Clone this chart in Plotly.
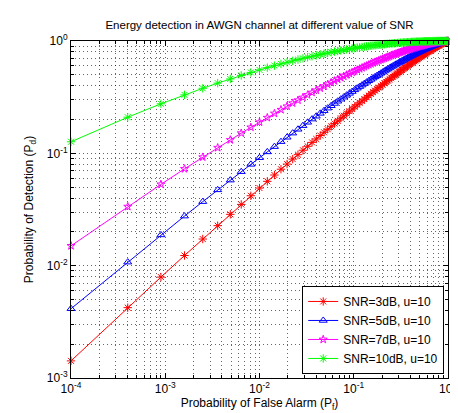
import plotly.graph_objects as go

# Probability of false alarm (x) values
pf = [0.0001, 0.0004, 0.0009, 0.0016, 0.0025, 0.0036, 0.0049, 0.0064, 0.0081, 0.01,
      0.0121, 0.0144, 0.0169, 0.0196, 0.0225, 0.0256, 0.0289, 0.0324, 0.0361, 0.04,
      0.0441, 0.0484, 0.0529, 0.0576, 0.0625, 0.0676, 0.0729, 0.0784, 0.0841, 0.09,
      0.0961, 0.1024, 0.1089, 0.1156, 0.1225, 0.1296, 0.1369, 0.1444, 0.1521, 0.16,
      0.1681, 0.1764, 0.1849, 0.1936, 0.2025, 0.2116, 0.2209, 0.2304, 0.2401, 0.25,
      0.2601, 0.2704, 0.2809, 0.2916, 0.3025, 0.3136, 0.3249, 0.3364, 0.3481, 0.36,
      0.3721, 0.3844, 0.3969, 0.4096, 0.4225, 0.4356, 0.4489, 0.4624, 0.4761, 0.49,
      0.5041, 0.5184, 0.5329, 0.5476, 0.5625, 0.5776, 0.5929, 0.6084, 0.6241, 0.64,
      0.6561, 0.6724, 0.6889, 0.7056, 0.7225, 0.7396, 0.7569, 0.7744, 0.7921, 0.81,
      0.8281, 0.8464, 0.8649, 0.8836, 0.9025, 0.9216, 0.9409, 0.9604, 0.9801, 1.0]

pd_snr3 = [0.00142, 0.00423, 0.00791, 0.01232, 0.01726, 0.0227, 0.02864, 0.03509, 0.04193, 0.04907,
           0.05632, 0.06411, 0.07222, 0.08023, 0.08885, 0.0973, 0.1066, 0.1155, 0.1252, 0.1342,
           0.1441, 0.154, 0.1639, 0.1741, 0.1841, 0.1947, 0.205, 0.2157, 0.2266, 0.2372,
           0.2483, 0.2593, 0.2705, 0.2817, 0.2927, 0.3042, 0.3153, 0.327, 0.3387, 0.3503,
           0.3618, 0.3732, 0.3851, 0.3969, 0.4087, 0.4205, 0.4326, 0.4442, 0.4563, 0.4684,
           0.4802, 0.4919, 0.5041, 0.5159, 0.5281, 0.5402, 0.552, 0.564, 0.576, 0.5879,
           0.5998, 0.6115, 0.6235, 0.6351, 0.6468, 0.6588, 0.6706, 0.682, 0.6938, 0.7054,
           0.7168, 0.7283, 0.7399, 0.7512, 0.7623, 0.7737, 0.7847, 0.7957, 0.8066, 0.8174,
           0.8283, 0.839, 0.8493, 0.86, 0.8703, 0.8805, 0.8905, 0.9004, 0.91, 0.9195,
           0.9288, 0.938, 0.947, 0.9557, 0.9641, 0.9723, 0.9801, 0.9874, 0.9942, 1.0]

pd_snr5 = [0.00414, 0.01075, 0.01878, 0.02762, 0.03714, 0.04731, 0.05775, 0.06861, 0.07979, 0.0914,
           0.103, 0.1147, 0.127, 0.139, 0.1513, 0.1637, 0.1763, 0.1889, 0.2017, 0.2139,
           0.2269, 0.2397, 0.2525, 0.2653, 0.2779, 0.2908, 0.3033, 0.3163, 0.3292, 0.3417,
           0.3546, 0.3674, 0.38, 0.3927, 0.405, 0.4177, 0.4299, 0.4425, 0.4551, 0.4674,
           0.4794, 0.4914, 0.5037, 0.5158, 0.5277, 0.5397, 0.5516, 0.5631, 0.575, 0.5867,
           0.598, 0.6092, 0.6207, 0.6318, 0.643, 0.6542, 0.6649, 0.6758, 0.6865, 0.6971,
           0.7075, 0.7178, 0.7282, 0.738, 0.7481, 0.7581, 0.768, 0.7774, 0.787, 0.7965,
           0.8057, 0.8148, 0.824, 0.8329, 0.8414, 0.8501, 0.8585, 0.8667, 0.8748, 0.8828,
           0.8907, 0.8985, 0.9058, 0.9133, 0.9204, 0.9274, 0.9342, 0.9408, 0.9471, 0.9533,
           0.9592, 0.965, 0.9706, 0.9758, 0.9808, 0.9855, 0.9899, 0.9938, 0.9973, 1.0]

pd_snr7 = [0.01501, 0.03356, 0.05297, 0.07274, 0.0925, 0.1122, 0.1317, 0.1512, 0.1705, 0.1893,
           0.2078, 0.2265, 0.2445, 0.2624, 0.2798, 0.2972, 0.3143, 0.3314, 0.3479, 0.3639,
           0.3799, 0.3959, 0.4112, 0.4264, 0.4414, 0.4561, 0.4704, 0.4848, 0.4988, 0.5125,
           0.5261, 0.5394, 0.5526, 0.5654, 0.5778, 0.5904, 0.6023, 0.6144, 0.6263, 0.6379,
           0.6489, 0.6599, 0.671, 0.6816, 0.6921, 0.7025, 0.7127, 0.7224, 0.7322, 0.7419,
           0.7511, 0.7601, 0.7692, 0.7779, 0.7866, 0.7951, 0.8032, 0.8113, 0.8192, 0.8269,
           0.8344, 0.8416, 0.8489, 0.8558, 0.8626, 0.8694, 0.876, 0.8821, 0.8884, 0.8945,
           0.9003, 0.906, 0.9116, 0.917, 0.9221, 0.9272, 0.9321, 0.9368, 0.9414, 0.9458,
           0.9501, 0.9543, 0.9581, 0.962, 0.9657, 0.9692, 0.9725, 0.9757, 0.9787, 0.9816,
           0.9842, 0.9868, 0.9892, 0.9913, 0.9933, 0.9951, 0.9968, 0.9981, 0.9993, 1.0]

pd_snr10 = [0.1268, 0.2097, 0.2759, 0.3314, 0.3793, 0.4217, 0.4593, 0.4936, 0.5247, 0.5531,
            0.579, 0.6032, 0.6257, 0.6463, 0.6655, 0.6837, 0.7008, 0.7168, 0.7318, 0.7455,
            0.7589, 0.7715, 0.7832, 0.7944, 0.8049, 0.8149, 0.8242, 0.8333, 0.8419, 0.8499,
            0.8577, 0.865, 0.872, 0.8786, 0.8848, 0.8909, 0.8965, 0.902, 0.9073, 0.9122,
            0.9168, 0.9212, 0.9255, 0.9295, 0.9334, 0.9371, 0.9407, 0.9439, 0.9472, 0.9503,
            0.9531, 0.9558, 0.9585, 0.961, 0.9634, 0.9657, 0.9678, 0.9698, 0.9718, 0.9736,
            0.9754, 0.977, 0.9786, 0.9801, 0.9815, 0.9829, 0.9841, 0.9853, 0.9865, 0.9875,
            0.9885, 0.9895, 0.9904, 0.9912, 0.992, 0.9928, 0.9934, 0.9941, 0.9947, 0.9952,
            0.9958, 0.9963, 0.9967, 0.9971, 0.9975, 0.9978, 0.9982, 0.9984, 0.9987, 0.9989,
            0.9991, 0.9993, 0.9995, 0.9996, 0.9997, 0.9998, 0.9999, 0.9999, 1.0, 1.0]

series_names = ["SNR=3dB, u=10", "SNR=5dB, u=10", "SNR=7dB, u=10", "SNR=10dB, u=10"]
series_values = [pd_snr3, pd_snr5, pd_snr7, pd_snr10]
series_colors = ["#ff0000", "#0000ff", "#ff00ff", "#00ff00"]
series_symbols = ["asterisk-open", "triangle-up-open", "star-open", "asterisk-open"]
series_sizes = [7, 7, 6, 7]

x_tickvals = [1e-4, 1e-3, 1e-2, 1e-1, 1]
x_ticktext = ["10<sup>-4</sup>", "10<sup>-3</sup>", "10<sup>-2</sup>", "10<sup>-1</sup>", "10<sup>0</sup>"]
y_tickvals = [1e-3, 1e-2, 1e-1, 1]
y_ticktext = ["10<sup>-3</sup>", "10<sup>-2</sup>", "10<sup>-1</sup>", "10<sup>0</sup>"]

x_minor = [m * 10.0 ** d for d in range(-4, 0) for m in range(2, 10)]
y_minor = [m * 10.0 ** d for d in range(-3, 0) for m in range(2, 10)]

FONT = "Liberation Sans, Arial, sans-serif"
GRID = "rgba(0,0,0,0.6)"
DASH = "1px,3px"

fig = go.Figure()
for name, vals, col, sym, sz in zip(series_names, series_values, series_colors, series_symbols, series_sizes):
    fig.add_trace(go.Scatter(
        x=pf, y=vals, mode="lines+markers", name=name,
        line=dict(color=col, width=1),
        marker=dict(symbol=sym, size=sz, color=col, line=dict(color=col, width=1)),
        cliponaxis=False,
    ))

axis_common = dict(
    type="log", showline=True, linecolor="black", linewidth=1, mirror="allticks",
    ticks="inside", ticklen=5, tickcolor="black",
    showgrid=True, gridcolor=GRID, griddash=DASH, gridwidth=1,
    zeroline=False, tickfont=dict(family=FONT, size=12, color="black"),
    ticklabeloverflow="allow",
)

fig.update_xaxes(
    **axis_common, range=[-4, 0], tickmode="array", tickvals=x_tickvals, ticktext=x_ticktext,
    minor=dict(tickmode="array", tickvals=x_minor, ticks="inside", ticklen=3, tickcolor="black",
               showgrid=True, gridcolor=GRID, griddash=DASH, gridwidth=1),
    title=dict(text="Probability of False Alarm (P<sub>f</sub>)", font=dict(family=FONT, size=12, color="black"), standoff=2),
)
fig.update_yaxes(
    **axis_common, range=[-3, 0], tickmode="array", tickvals=y_tickvals, ticktext=y_ticktext,
    minor=dict(tickmode="array", tickvals=y_minor, ticks="inside", ticklen=3, tickcolor="black",
               showgrid=True, gridcolor=GRID, griddash=DASH, gridwidth=1),
    title=dict(text="Probability of Detection (P<sub>d</sub>)", font=dict(family=FONT, size=12, color="black"), standoff=10),
)

fig.update_layout(
    width=458, height=413,
    margin=dict(l=63, r=9, t=33, b=43),
    paper_bgcolor="white", plot_bgcolor="white",
    title=dict(text="Energy detection in AWGN channel at different value of SNR",
               x=0.5, xref="paper", y=1 - 17 / 413, yref="container", yanchor="middle",
               font=dict(family=FONT, size=11.5, color="black")),
    legend=dict(x=0.99, y=0.012, xanchor="right", yanchor="bottom",
                bgcolor="white", bordercolor="black", borderwidth=1,
                font=dict(family=FONT, size=12, color="black"),
                tracegroupgap=0, itemwidth=30),
    showlegend=True,
)

fig.write_html("out.html")
